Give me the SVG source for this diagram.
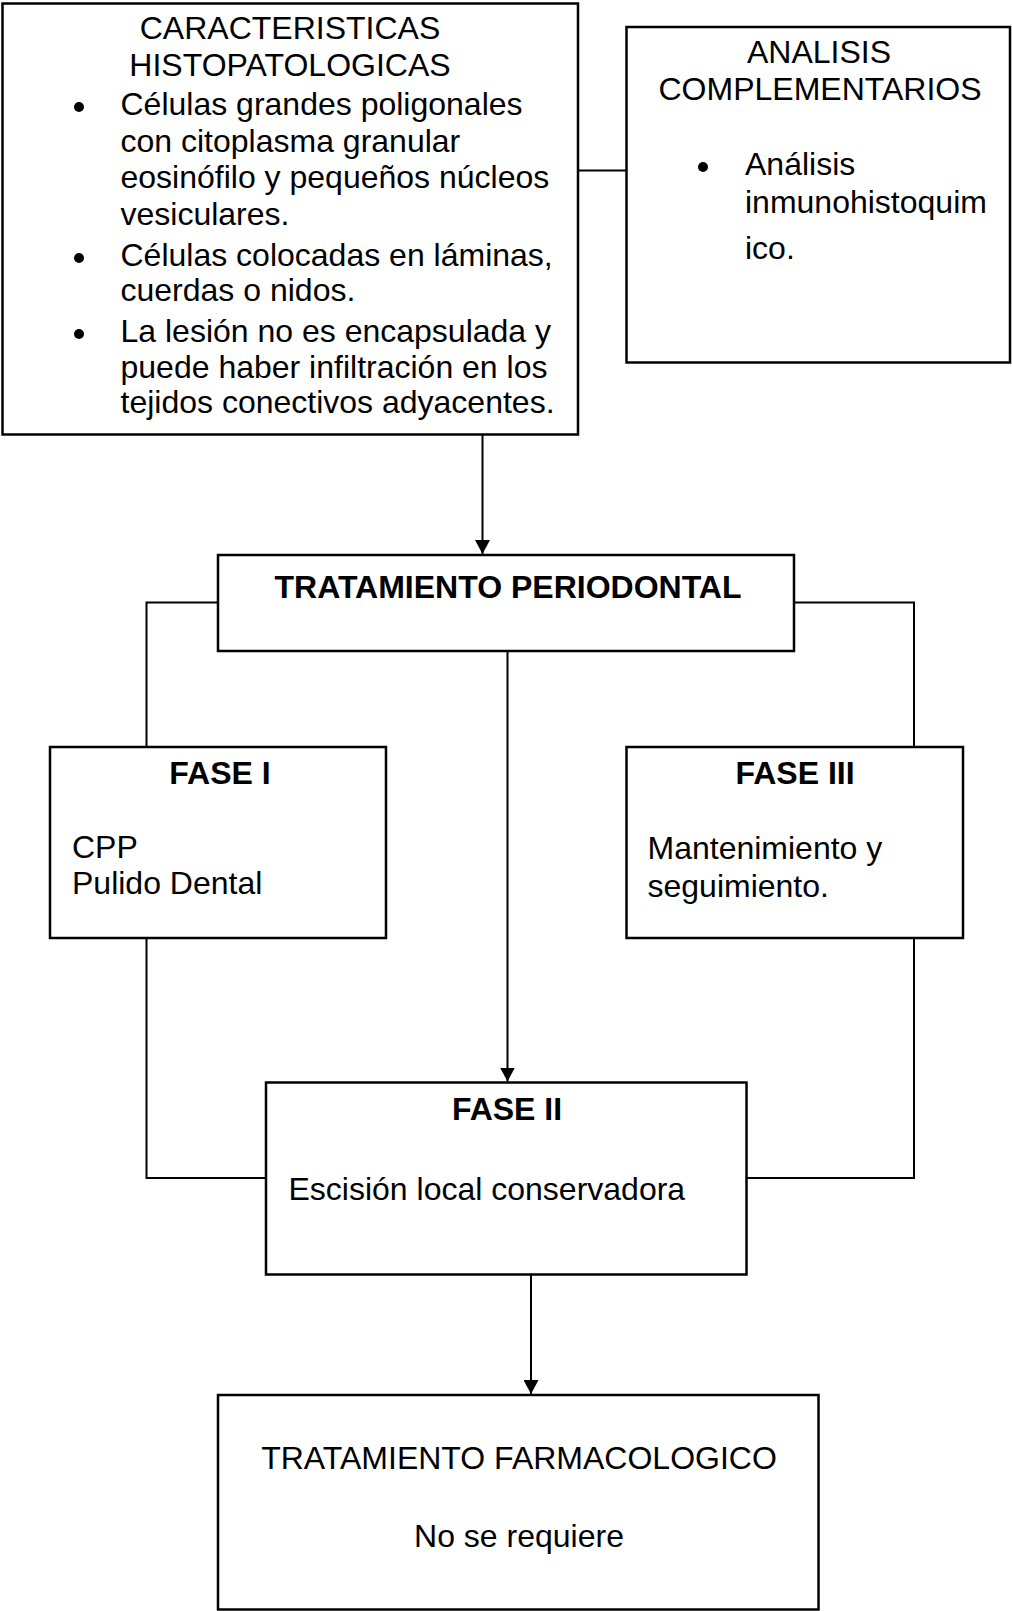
<svg xmlns="http://www.w3.org/2000/svg" width="1012" height="1611" viewBox="0 0 1012 1611">
<style>
.box{fill:#fff;stroke:#000;stroke-width:2.5}
.con{fill:none;stroke:#000;stroke-width:2}
text{font-family:"Liberation Sans",Arial,sans-serif;font-size:32px;fill:#000}
.c{text-anchor:middle}
.b{font-weight:bold}
.dot{fill:#000}
</style>
<defs>
<marker id="arr" markerUnits="userSpaceOnUse" markerWidth="15" markerHeight="15" refX="14" refY="7.5" orient="auto">
<path d="M0,0 L14,7.5 L0,15 z" fill="#000"/>
</marker>
</defs>
<rect width="1012" height="1611" fill="#fff"/>
<g id="connectors">
<line class="con" x1="482.5" y1="434.5" x2="482.5" y2="554" marker-end="url(#arr)"/>
<line class="con" x1="578" y1="170.5" x2="626.5" y2="170.5"/>
<polyline class="con" points="218,602.5 146.5,602.5 146.5,747"/>
<polyline class="con" points="794,602.5 914,602.5 914,747"/>
<line class="con" x1="507.5" y1="651" x2="507.5" y2="1081.5" marker-end="url(#arr)"/>
<polyline class="con" points="146.5,938 146.5,1178 266,1178"/>
<polyline class="con" points="914,938 914,1178 746.5,1178"/>
<line class="con" x1="531" y1="1274.5" x2="531" y2="1394" marker-end="url(#arr)"/>
</g>
<g id="histopatologicas">
<rect class="box" x="2.5" y="3.5" width="575.5" height="431"/>
<text class="c" x="290" y="39">CARACTERISTICAS</text>
<text class="c" x="290" y="76">HISTOPATOLOGICAS</text>
<circle class="dot" cx="79" cy="107" r="5"/>
<text x="120.5" y="115">Células grandes poligonales</text>
<text x="120.5" y="152">con citoplasma granular</text>
<text x="120.5" y="188">eosinófilo y pequeños núcleos</text>
<text x="120.5" y="225">vesiculares.</text>
<circle class="dot" cx="79" cy="258" r="5"/>
<text x="120.5" y="266">Células colocadas en láminas,</text>
<text x="120.5" y="301">cuerdas o nidos.</text>
<circle class="dot" cx="79" cy="334" r="5"/>
<text x="120.5" y="342">La lesión no es encapsulada y</text>
<text x="120.5" y="378">puede haber infiltración en los</text>
<text x="120.5" y="413">tejidos conectivos adyacentes.</text>
</g>
<g id="complementarios">
<rect class="box" x="626.5" y="27" width="383.5" height="335.5"/>
<text class="c" x="819" y="63">ANALISIS</text>
<text class="c" x="820" y="100">COMPLEMENTARIOS</text>
<circle class="dot" cx="703" cy="167" r="5"/>
<text x="745" y="175">Análisis</text>
<text x="745" y="213">inmunohistoquim</text>
<text x="745" y="259">ico.</text>
</g>
<g id="periodontal">
<rect class="box" x="218" y="555" width="576" height="96"/>
<text class="c b" x="508" y="598">TRATAMIENTO PERIODONTAL</text>
</g>
<g id="fase1">
<rect class="box" x="50" y="747" width="336" height="191"/>
<text class="c b" x="220" y="784">FASE I</text>
<text x="72" y="858">CPP</text>
<text x="72" y="894">Pulido Dental</text>
</g>
<g id="fase3">
<rect class="box" x="626.5" y="747" width="336.5" height="191"/>
<text class="c b" x="795" y="784">FASE III</text>
<text x="647.5" y="859">Mantenimiento y</text>
<text x="647.5" y="897">seguimiento.</text>
</g>
<g id="fase2">
<rect class="box" x="266" y="1082.5" width="480.5" height="192"/>
<text class="c b" x="507" y="1120">FASE II</text>
<text x="288.5" y="1200">Escisión local conservadora</text>
</g>
<g id="farmacologico">
<rect class="box" x="218" y="1395" width="600.5" height="214.5"/>
<text class="c" x="519" y="1469">TRATAMIENTO FARMACOLOGICO</text>
<text class="c" x="519" y="1547">No se requiere</text>
</g>
</svg>
